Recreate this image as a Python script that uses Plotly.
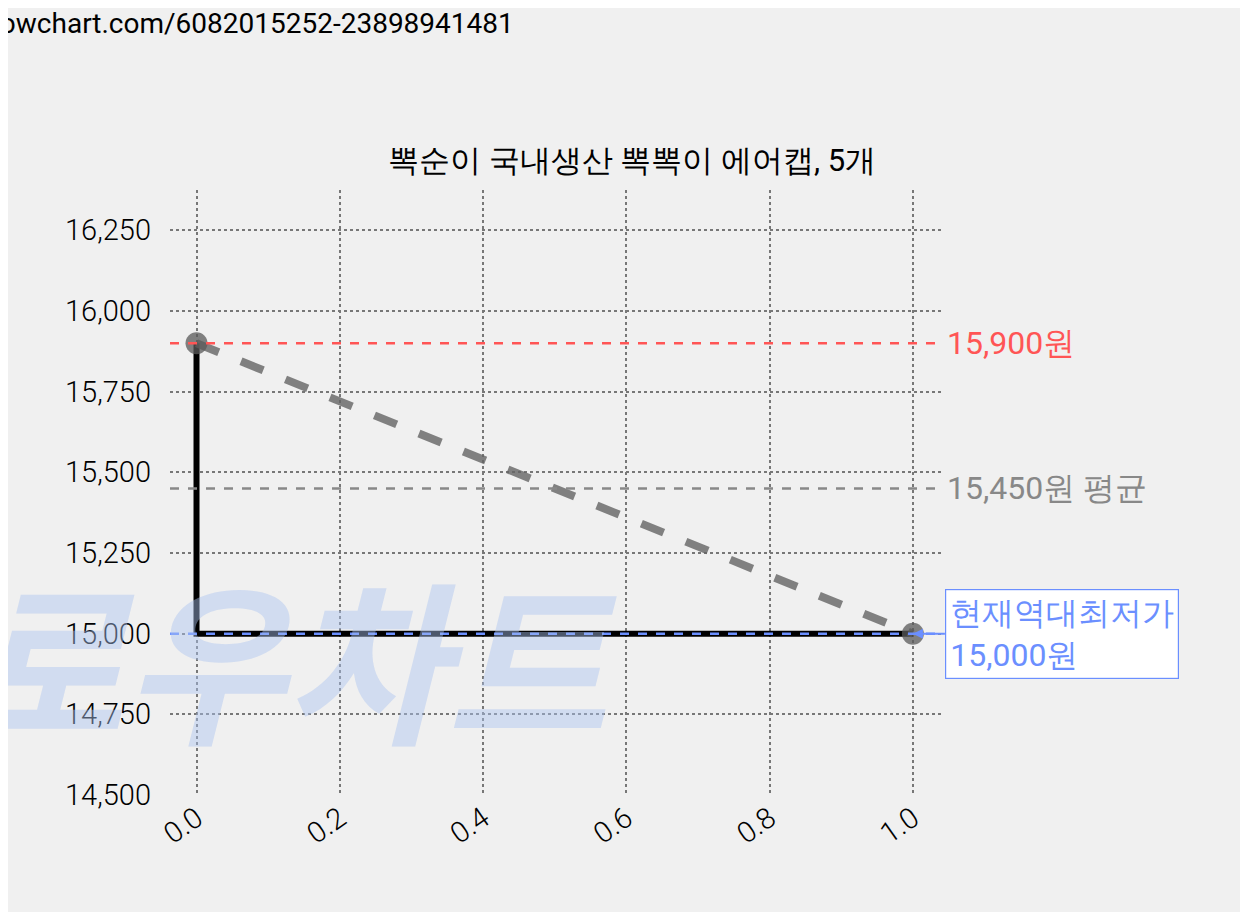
import plotly.graph_objects as go

x = [0.0, 1.0]
price = [15900, 15000]
max_p, avg_p, min_p = 15900, 15450, 15000
yticks = [14500, 14750, 15000, 15250, 15500, 15750, 16000, 16250]
xticks = [0.0, 0.2, 0.4, 0.6, 0.8, 1.0]
F = "Roboto"

fig = go.Figure()
fig.add_trace(go.Scatter(x=x, y=price, mode="lines", line=dict(color="black", width=6, shape="vh")))
fig.add_trace(go.Scatter(x=x, y=price, mode="lines+markers",
    line=dict(color="rgba(100,100,100,0.8)", width=8, dash="dash"),
    marker=dict(size=22, color="rgba(90,90,90,0.75)")))
for v, c in [(max_p, "#ff5555"), (avg_p, "#888888"), (min_p, "#6b8fff")]:
    fig.add_shape(type="line", xref="paper", x0=0, x1=1, y0=v, y1=v, line=dict(color=c, width=2.5, dash="dash"))
fig.add_annotation(xref="paper", x=1.0, y=max_p, text=f"{max_p:,}원", showarrow=False, xanchor="left",
    xshift=2, font=dict(family=F, size=32, color="#ff5555"))
fig.add_annotation(xref="paper", x=1.0, y=avg_p, text=f"{avg_p:,}원 평균", showarrow=False, xanchor="left",
    xshift=2, font=dict(family=F, size=32, color="#888888"))
fig.add_annotation(x=1.0, y=min_p, text=f"현재역대최저가<br>{min_p:,}원", showarrow=True, arrowhead=2,
    arrowcolor="#6b8fff", arrowwidth=2, ax=32, ay=0, xanchor="left", align="left",
    bgcolor="white", bordercolor="#6b8fff", borderwidth=1.2, borderpad=4,
    font=dict(family=F, size=32, color="#6b8fff"))
fig.add_annotation(xref="paper", yref="paper", x=-0.27, y=0.02, yanchor="bottom", text="<b><i>로우차트</i></b>",
    showarrow=False, xanchor="left", font=dict(family="Noto Sans CJK KR", size=175, color="rgba(170,195,240,0.45)"))
fig.add_annotation(xref="paper", yref="paper", x=-0.232, y=1.305, yanchor="top",
    text="lowchart.com/6082015252-23898941481",
    showarrow=False, xanchor="left", font=dict(family=F, size=28, color="black"))

fig.update_layout(
    width=1248, height=912, paper_bgcolor="#f0f0f0", plot_bgcolor="#f0f0f0", showlegend=False,
    margin=dict(l=162, r=313, t=182, b=125),
    title=dict(text="뽁순이 국내생산 뽁뽁이 에어캡, 5개", x=0.5, xanchor="center", y=0.845,
               font=dict(family=F, size=31, color="black")),
    font=dict(family=F, color="black"),
    xaxis=dict(range=[-0.037, 1.042], tickvals=xticks, ticktext=[f"{v:.1f}" for v in xticks],
               tickangle=-35, tickfont=dict(size=29, weight=300), showgrid=True, gridcolor="#777", griddash="dot",
               gridwidth=2, zeroline=False, showline=False),
    yaxis=dict(range=[14500, 16375], tickvals=yticks, ticktext=[f"{v:,}" for v in yticks],
               tickfont=dict(size=29, weight=300), showgrid=True, gridcolor="#777", griddash="dot",
               gridwidth=2, zeroline=False, showline=False, ticklabelstandoff=18),
)
fig.write_html("out.html")
